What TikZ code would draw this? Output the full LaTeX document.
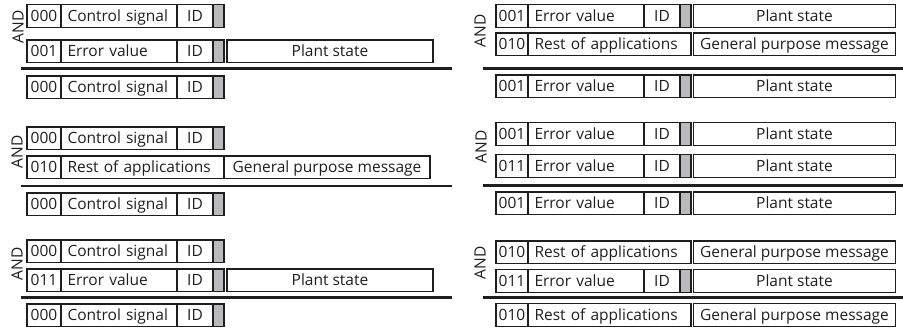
\documentclass[tikz,border=0pt]{standalone}
\usepackage{fontspec}
\setmainfont{Open Sans}
\definecolor{cellgrey}{RGB}{186,186,188}
\definecolor{ink}{RGB}{30,30,30}
\def\codew{34pt}
\def\gapw{3pt}
\def\plantw{206pt}
\def\restgap{0pt}
\newcommand\cellfont{\fontsize{15.5}{17}\selectfont}
\tikzset{
  cell/.style={draw=ink, line width=1.1pt, minimum height=22.7pt, inner sep=0pt, outer sep=0pt,
    anchor=north west, text height=11pt, text depth=0pt, font=\cellfont, text=ink},
  codecell/.style={cell, minimum width=\codew},
  namecell/.style={cell, minimum width=116pt, text width=103pt, align=left, inner xsep=6.5pt},
  idcell/.style={cell, minimum width=36pt},
  greycell/.style={cell, minimum width=11pt, fill=cellgrey},
  plantcell/.style={cell, minimum width=\plantw},
  restcell/.style={cell, minimum width=163pt, text width=150pt, align=left, inner xsep=6.5pt},
  andlabel/.style={rotate=90, inner sep=0pt, font=\cellfont, text=ink},
  sepline/.style={draw=ink, line width=2.6pt}
}
% #1 prefix, #2 x, #3 y, #4 code
\newcommand\ctlrow[4]{%
  \node[codecell] (#1c) at (#2,#3) {#4};
  \node[namecell] (#1n) at (#1c.north east) {Control signal};
  \node[idcell] (#1i) at (#1n.north east) {ID};
  \node[greycell] (#1g) at (#1i.north east) {};
}
\newcommand\errrow[4]{%
  \node[codecell] (#1c) at (#2,#3) {#4};
  \node[namecell] (#1n) at (#1c.north east) {Error value};
  \node[idcell] (#1i) at (#1n.north east) {ID};
  \node[greycell] (#1g) at (#1i.north east) {};
  \node[plantcell] (#1p) at ([xshift=\gapw]#1g.north east) {Plant state};
}
\newcommand\restrow[4]{%
  \node[codecell] (#1c) at (#2,#3) {#4};
  \node[restcell] (#1n) at (#1c.north east) {Rest of applications};
  \node[plantcell] (#1p) at ([xshift=\restgap]#1n.north east) {General purpose message};
}
\begin{document}
\begin{tikzpicture}[x=1pt,y=-1pt]
\useasboundingbox (0,0) rectangle (903,329);
% ---------- left panel ----------
\def\codew{34pt}\def\gapw{3pt}\def\plantw{206pt}\def\restgap{0pt}
% group 1
\node[andlabel] (andL1) at (18,27) {AND};
\ctlrow{La}{27}{4.5}{000}
\errrow{Lb}{27}{40}{001}
\coordinate (sL1a) at (21,68.7); \coordinate (sL1b) at (452,68.7);
\draw[sepline] (sL1a) -- (sL1b);
\ctlrow{Lc}{27}{76}{000}
% group 2
\node[andlabel] (andL2) at (17,152) {AND};
\ctlrow{Ld}{27}{127}{000}
\restrow{Le}{27}{156}{010}
\coordinate (sL2a) at (21,186); \coordinate (sL2b) at (452,186);
\draw[sepline] (sL2a) -- (sL2b);
\ctlrow{Lf}{27}{193}{000}
% group 3
\node[andlabel] (andL3) at (17,264) {AND};
\ctlrow{Lg}{27}{240}{000}
\errrow{Lh}{27}{269}{011}
\coordinate (sL3a) at (21,297.5); \coordinate (sL3b) at (452,297.5);
\draw[sepline] (sL3a) -- (sL3b);
\ctlrow{Li}{27}{304}{000}
% ---------- right panel ----------
\def\codew{32pt}\def\gapw{2.5pt}\def\plantw{202pt}\def\restgap{2.5pt}
% group 1
\node[andlabel] (andR1) at (480,31) {AND};
\errrow{Ra}{496}{4.5}{001}
\restrow{Rb}{496}{33}{010}
\coordinate (sR1a) at (483,68.5); \coordinate (sR1b) at (903,68.5);
\draw[sepline] (sR1a) -- (sR1b);
\errrow{Rc}{496}{75}{001}
% group 2
\node[andlabel] (andR2) at (481,147) {AND};
\errrow{Rd}{496}{122.5}{001}
\errrow{Re}{496}{154.5}{011}
\coordinate (sR2a) at (483,185.5); \coordinate (sR2b) at (903,185.5);
\draw[sepline] (sR2a) -- (sR2b);
\errrow{Rf}{496}{192}{001}
% group 3
\node[andlabel] (andR3) at (480,263) {AND};
\restrow{Rg}{496}{241}{010}
\errrow{Rh}{496}{269.5}{011}
\coordinate (sR3a) at (483,297.5); \coordinate (sR3b) at (903,297.5);
\draw[sepline] (sR3a) -- (sR3b);
\restrow{Ri}{496}{303.5}{010}
\end{tikzpicture}
\end{document}
